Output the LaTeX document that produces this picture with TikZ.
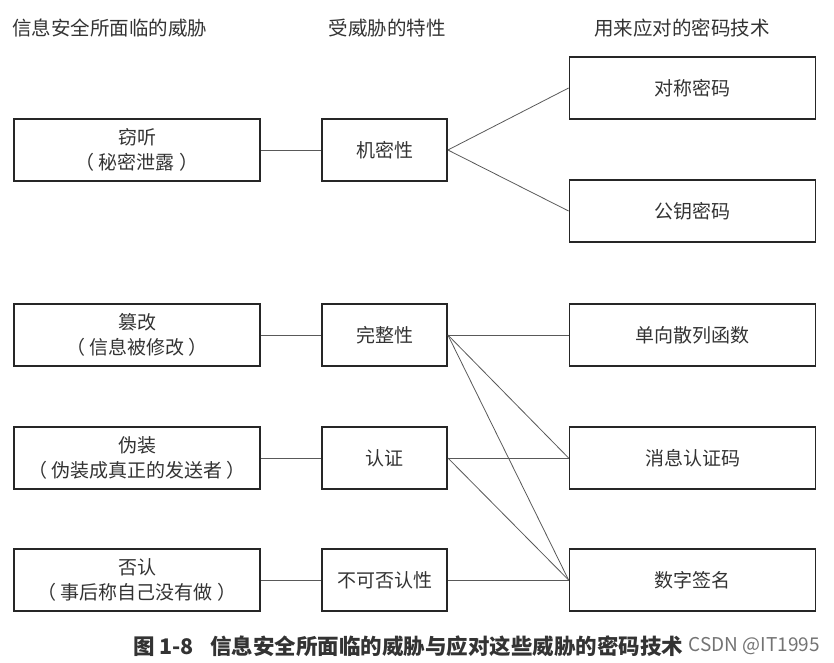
\documentclass[tikz,border=0pt]{standalone}
\usepackage{fontspec}
\setmainfont{Noto Sans CJK SC}
\usetikzlibrary{positioning}

\begin{document}
\begin{tikzpicture}[
x=1bp,
y=-1bp,
threat/.style={
  draw=black!85,
  line width=1.8bp,
  minimum width=246bp,
  minimum height=62bp,
  align=center,
  inner sep=0pt,
  font=\fontsize{19bp}{25bp}\selectfont,
  text=black!80
  },
prop/.style={
  threat,
  minimum width=125bp
  },
tech/.style={
  threat,
  minimum width=246bp
  },
head/.style={
  font=\fontsize{19.5bp}{22bp}\selectfont,
  text=black!80,
  inner sep=0pt
  },
link/.style={
  draw=black!65,
  line width=0.8bp
  }
]
\useasboundingbox (0,0) rectangle (834,663);

% column heads
\node[head, anchor=west] (h1) at (12,28) {信息安全所面临的威胁};
\node[head] (h2) at (387,28) {受威胁的特性};
\node[head] (h3) at (682,28) {用来应对的密码技术};

% threats
\node[threat] (t1) at (137,150) {窃听\\（\hspace{4bp}秘密泄露\hspace{4bp}）};
\node[threat] (t2) at (137,335) {篡改\\（\hspace{4bp}信息被修改\hspace{4bp}）};
\node[threat] (t3) at (137,458) {伪装\\（\hspace{4bp}伪装成真正的发送者\hspace{4bp}）};
\node[threat] (t4) at (137,580) {否认\\（\hspace{4bp}事后称自己没有做\hspace{4bp}）};

% properties
\node[prop] (p1) at (384.5,150) {机密性};
\node[prop] (p2) at (384.5,335) {完整性};
\node[prop] (p3) at (384.5,458) {认证};
\node[prop] (p4) at (384.5,580) {不可否认性};

% techniques
\node[tech] (c1) at (692.5,88) {对称密码};
\node[tech] (c2) at (692.5,211) {公钥密码};
\node[tech] (c3) at (692.5,335) {单向散列函数};
\node[tech] (c4) at (692.5,458) {消息认证码};
\node[tech] (c5) at (692.5,580) {数字签名};

\foreach \i in {1,...,4}
  \draw[link] (t\i.east) -- (p\i.west);

\draw[link] (p1.east) -- (c1.west);
\draw[link] (p1.east) -- (c2.west);
\foreach \j in {3,4,5}
  \draw[link] (p2.east) -- (c\j.west);
\foreach \j in {4,5}
  \draw[link] (p3.east) -- (c\j.west);
\draw[link] (p4.east) -- (c5.west);

% caption
\node[font=\fontsize{21.5bp}{24bp}\selectfont\bfseries, text=black!80, anchor=west, inner sep=0pt]
  (cap) at (133,646) {图 1-8\hspace{16bp}信息安全所面临的威胁与应对这些威胁的密码技术};
\node[font=\fontsize{19bp}{22bp}\selectfont, text=black!55, anchor=east, inner sep=0pt]
  (mark) at (820,646) {CSDN @IT1995};
\end{tikzpicture}
\end{document}
